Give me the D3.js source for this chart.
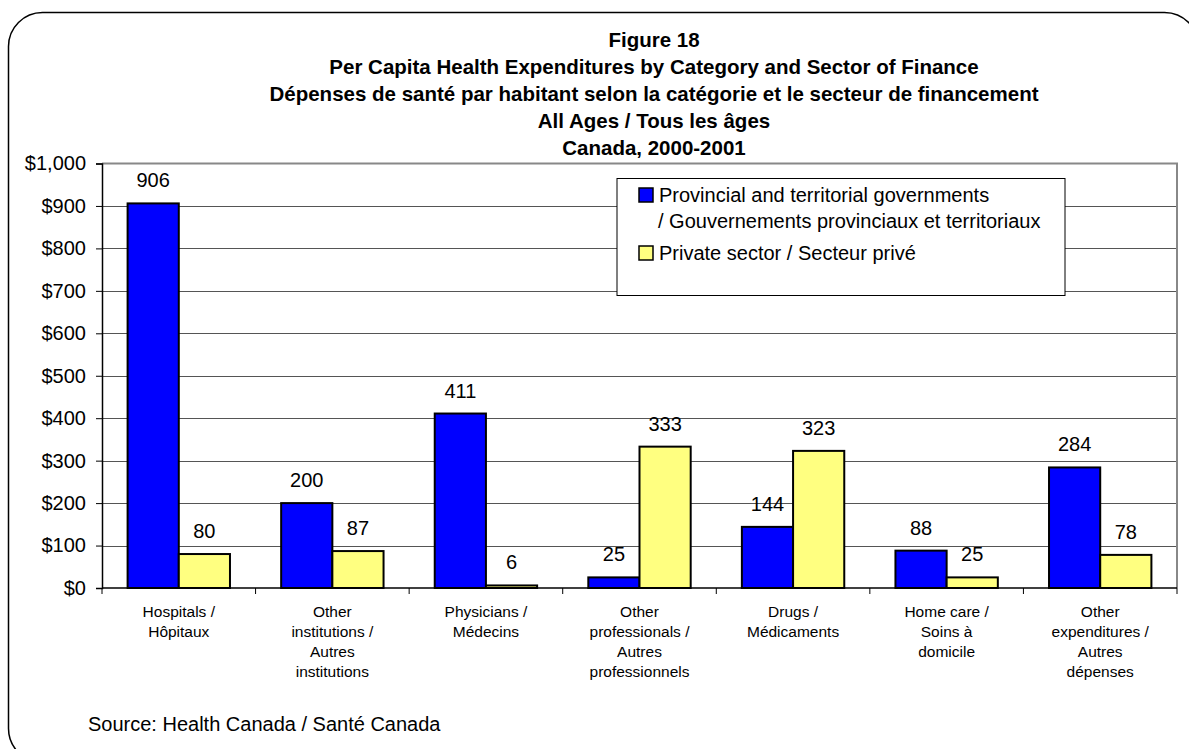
<!DOCTYPE html>
<html>
<head>
<meta charset="utf-8">
<script src="https://cdn.jsdelivr.net/npm/d3@7"></script>
<style>
  html, body { margin: 0; padding: 0; background: #fff; }
  svg { display: block; }
  text { font-family: Arial, "Liberation Sans", sans-serif; fill: #000; }
</style>
</head>
<body>
<svg id="chart" width="1189" height="749"></svg>
<script>
// ---- DATA ----
const categories = [
  ["Hospitals /", "Hôpitaux"],
  ["Other", "institutions /", "Autres", "institutions"],
  ["Physicians /", "Médecins"],
  ["Other", "professionals /", "Autres", "professionnels"],
  ["Drugs /", "Médicaments"],
  ["Home care /", "Soins à", "domicile"],
  ["Other", "expenditures /", "Autres", "dépenses"]
];
const seriesNames = [
  ["Provincial and territorial governments", "/ Gouvernements provinciaux et territoriaux"],
  ["Private sector / Secteur privé"]
];
const governmentValues = [906, 200, 411, 25, 144, 88, 284];
const privateValues = [80, 87, 6, 333, 323, 25, 78];
const yTicks = [0, 100, 200, 300, 400, 500, 600, 700, 800, 900, 1000];
const titleLines = [
  "Figure 18",
  "Per Capita Health Expenditures by Category and Sector of Finance",
  "Dépenses de santé par habitant selon la catégorie et le secteur de financement",
  "All Ages / Tous les âges",
  "Canada, 2000-2001"
];
const sourceText = "Source: Health Canada / Santé Canada";

// ---- LAYOUT ----
const svg = d3.select("#chart");
const plot = { left: 102, top: 163.5, right: 1177, bottom: 588 };
const colors = ["#0000FF", "#FFFF80"];

// frame
svg.append("rect")
  .attr("x", 8.5).attr("y", 12.5)
  .attr("width", 1190).attr("height", 750)
  .attr("rx", 34).attr("ry", 34)
  .attr("fill", "none").attr("stroke", "#000").attr("stroke-width", 1.5);

// title
svg.append("g").selectAll("text").data(titleLines).join("text")
  .attr("x", 654)
  .attr("y", (d, i) => 47 + i * 27)
  .attr("text-anchor", "middle")
  .style("font-size", "20.5px").style("font-weight", "bold")
  .text(d => d);

const x = d3.scaleBand()
  .domain(d3.range(categories.length))
  .range([plot.left, plot.right])
  .paddingInner(0).paddingOuter(0);
const xSub = d3.scaleBand()
  .domain([0, 1])
  .range([0, x.bandwidth()])
  .paddingOuter(0.5).paddingInner(0);
const y = d3.scaleLinear().domain([0, 1000]).range([plot.bottom, plot.top]);

// gridlines
svg.append("g").selectAll("line").data(yTicks.filter(d => d > 0 && d < 1000)).join("line")
  .attr("x1", plot.left).attr("x2", plot.right)
  .attr("y1", d => Math.round(y(d)) + 0.5).attr("y2", d => Math.round(y(d)) + 0.5)
  .attr("stroke", "#555").attr("stroke-width", 1);

// plot border top & right (gray)
svg.append("path")
  .attr("d", `M${plot.left},${plot.top}H${plot.right}V${plot.bottom}`)
  .attr("fill", "none").attr("stroke", "#888").attr("stroke-width", 2);

// bars
const seriesData = [governmentValues, privateValues];
seriesData.forEach((vals, s) => {
  svg.append("g").selectAll("rect").data(vals).join("rect")
    .attr("x", (d, i) => x(i) + xSub(s))
    .attr("y", d => y(d))
    .attr("width", xSub.bandwidth())
    .attr("height", d => y(0) - y(d))
    .attr("fill", colors[s])
    .attr("stroke", "#000").attr("stroke-width", 2);
  svg.append("g").selectAll("text").data(vals).join("text")
    .attr("x", (d, i) => x(i) + xSub(s) + xSub.bandwidth() / 2)
    .attr("y", d => y(d) - 16)
    .attr("text-anchor", "middle")
    .style("font-size", "20px")
    .text(d => d);
});

// y axis
const yAxis = d3.axisLeft(y).tickValues(yTicks)
  .tickFormat(d => "$" + d3.format(",")(d))
  .tickSize(6).tickPadding(10);
const gy = svg.append("g").attr("transform", `translate(${plot.left},0)`).call(yAxis);
gy.select(".domain").attr("stroke", "#000").attr("stroke-width", 1.5);
gy.selectAll(".tick line").attr("stroke", "#000");
gy.selectAll(".tick text").style("font-size", "20px")
  .style("font-family", "Arial, 'Liberation Sans', sans-serif").attr("fill", "#000");

// x axis
const xEdges = d3.range(categories.length + 1).map(i => plot.left + i * x.bandwidth());
const gx = svg.append("g");
gx.append("line")
  .attr("x1", plot.left).attr("x2", plot.right)
  .attr("y1", plot.bottom).attr("y2", plot.bottom)
  .attr("stroke", "#000").attr("stroke-width", 1.5);
gx.selectAll("line.tk").data(xEdges).join("line").attr("class", "tk")
  .attr("x1", d => d).attr("x2", d => d)
  .attr("y1", plot.bottom).attr("y2", plot.bottom + 6)
  .attr("stroke", "#000");
categories.forEach((lines, i) => {
  const t = gx.append("text")
    .attr("text-anchor", "middle")
    .attr("x", x(i) + x.bandwidth() / 2)
    .attr("y", 617)
    .style("font-size", "15.5px");
  lines.forEach((ln, j) => {
    t.append("tspan").attr("x", x(i) + x.bandwidth() / 2)
      .attr("dy", j === 0 ? 0 : 20).text(ln);
  });
});

// legend
const lg = svg.append("g");
lg.append("rect")
  .attr("x", 617).attr("y", 178.5).attr("width", 448).attr("height", 117)
  .attr("fill", "#fff").attr("stroke", "#000").attr("stroke-width", 1);
const legendRows = [{ y: 188, textY: 202 }, { y: 246, textY: 260 }];
seriesNames.forEach((names, s) => {
  lg.append("rect")
    .attr("x", 639).attr("y", legendRows[s].y)
    .attr("width", 14).attr("height", 14)
    .attr("fill", colors[s]).attr("stroke", "#000").attr("stroke-width", 1.5);
  names.forEach((nm, j) => {
    lg.append("text")
      .attr("x", j === 0 ? 659 : 658)
      .attr("y", legendRows[s].textY + j * 25.5)
      .style("font-size", "20px")
      .text(nm);
  });
});

// source
svg.append("text")
  .attr("x", 88).attr("y", 731)
  .style("font-size", "20px")
  .text(sourceText);
</script>
</body>
</html>
